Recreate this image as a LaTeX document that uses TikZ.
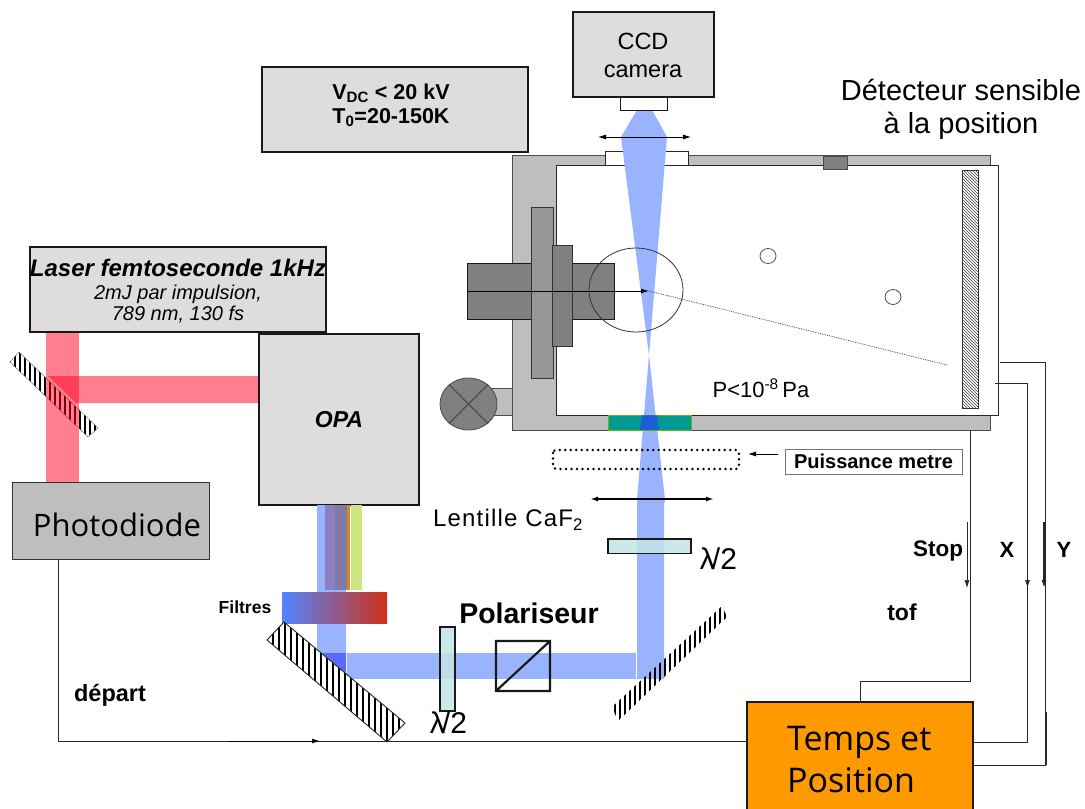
\documentclass[tikz,border=0pt]{standalone}
\usepackage{fontspec}
\setmainfont{Liberation Sans}
\setsansfont{Liberation Sans}
\newfontfamily\bigfont{Open Sans}
\usetikzlibrary{arrows.meta,patterns,calc,shapes.geometric}
\definecolor{boxgray}{HTML}{DDDDDD}
\definecolor{wallgray}{HTML}{BEBEBE}
\definecolor{beam}{HTML}{9AB3FF}
\definecolor{redb}{HTML}{FF0020}
\definecolor{tealc}{HTML}{009A94}
\definecolor{orangec}{HTML}{FF9900}
\definecolor{platec}{HTML}{C5E4E6}
\definecolor{purpa}{HTML}{8A80BF}
\definecolor{purpb}{HTML}{7F7AA6}
\definecolor{orangeb}{HTML}{D8862C}
\definecolor{greenb}{HTML}{CDE57E}
\definecolor{filta}{HTML}{4F86FF}
\definecolor{filtb}{HTML}{A050A8}
\definecolor{filtc}{HTML}{D03018}
\tikzset{x=1pt,y=-1pt,
 graybox/.style={draw=black!90,line width=1.4pt,fill=boxgray,inner sep=0pt,align=center},
 wire/.style={draw=black!85,line width=0.7pt},
 sig/.style={wire,-{Latex[length=8pt,width=5pt]}},
 plate/.style={draw=black!90,line width=1.6pt,fill=platec,fill opacity=.85},
 lab/.style={inner sep=0pt,align=center},
 dblarrow/.style={black,{Latex[length=8pt,width=5pt]}-{Latex[length=8pt,width=5pt]}},
 stripes/.style={line width=2.3pt,black}
}
% four corners, x range, stripe pitch
\newcommand{\hatchmirror}[7]{%
 \begin{scope}
  \fill[white] #1 -- #2 -- #3 -- #4 -- cycle;
  \clip #1 -- #2 -- #3 -- #4 -- cycle;
  \foreach \xx in {#5,#6,...,#7}{\draw[stripes] (\xx,300) -- (\xx,800);}
 \end{scope}}
\begin{document}
\begin{tikzpicture}
\useasboundingbox (0,0) rectangle (1085,809);
\fill[white] (0,0) rectangle (1085,809);
% chamber
\path[fill=wallgray,draw=black!70,line width=1pt] (512,155) rectangle (990,430);
\path[fill=white,draw=black!85,line width=0.9pt] (556,165) rectangle (998,415);
\path[fill=white,draw=black!85,line width=.8pt] (605,151) rectangle (688,165);
\path[fill=black!50,draw=black!70,line width=.7pt] (823,156) rectangle (847,169);
% tube valve
\path[fill=wallgray,draw=black!70,line width=.8pt] (490,388) rectangle (512,415);
\node[ellipse,minimum width=57pt,minimum height=52pt,inner sep=0pt,draw=black!70,line width=.8pt,fill=black!50] (valve) at (468.5,404) {};
\draw[black!75,line width=.8pt] (valve.45) -- (valve.225) (valve.135) -- (valve.315);
% electrode
\path[fill=black!50,draw=black!90,line width=.7pt] (467,263) rectangle (614,319);
\path[fill=black!41,draw=black!80,line width=.7pt] (531,207) rectangle (553,378);
\path[fill=black!50,draw=black!80,line width=.7pt] (552,245) rectangle (572,346);
% blue beam (camera side and lens side)
\fill[beam] (637,110) -- (652,110) -- (667,137) -- (649,355) -- (621,137) -- cycle;
\fill[beam] (649,355) -- (665,500) -- (664,505) -- (664,679) -- (637,679) -- (637,505) -- (637,500) -- cycle;
% window bar
\path[fill=tealc,draw=green!55!black!60!yellow,line width=1pt] (608,415) rectangle (691,430);
\fill[blue!70!beam,opacity=.6] (642,415) -- (657,415) -- (659,430) -- (640,430) -- cycle;
% circle & arrow
\coordinate (ioncentre) at (649,291);
\draw[black!80,line width=.8pt] (636,290) ellipse [x radius=47,y radius=42];
\coordinate (tipL) at (467,291);
\draw[black,line width=.8pt,-{Latex[length=8pt,width=5pt]}] (tipL) -- (ioncentre);
\coordinate (detHit) at (947,365);
\draw[black!70,line width=.8pt,densely dotted] (ioncentre) -- (detHit);
% ions
\node[ellipse,minimum width=16pt,minimum height=15pt,inner sep=0pt,draw=black!70,line width=.8pt,fill=white] (ion1) at (768,256) {};
\node[ellipse,minimum width=16pt,minimum height=15pt,inner sep=0pt,draw=black!70,line width=.8pt,fill=white] (ion2) at (893,297) {};
% detector
\path[pattern=north west lines,pattern color=black!75,draw=black!80,line width=.7pt] (962,170) rectangle (978,408);
\node[lab,font=\fontsize{22}{24}\selectfont] (pres) at (761,388) {P<10\textsuperscript{-8}\,Pa};
% CCD
\node[graybox,minimum width=141pt,minimum height=85pt] (ccd) at (643.5,54.5) {};
\node[lab,font=\fontsize{23.5}{28}\selectfont] at (643,55) {CCD\\camera};
\path[fill=white,draw=black!90,line width=.8pt] (620,97) rectangle (667,110);
\draw[dblarrow,line width=.8pt] (598,137) -- (691,137);
% HV box
\node[graybox,minimum width=266pt,minimum height=85pt] (hv) at (395,109.5) {};
\node[lab,font=\bfseries\fontsize{21.5}{24}\selectfont] at (391,105) {V\textsubscript{DC} < 20 kV\\T\textsubscript{0}=20-150K};
% detector label
\node[lab,font=\fontsize{29}{33}\selectfont] at (961,109) {Détecteur sensible\\à la position};
% small mirror + red beams
\hatchmirror{(10,362)}{(19,352)}{(98,428)}{(88,437)}{10}{15}{100}
\draw[black!60,line width=.4pt] (10,362) -- (19,352) -- (98,428) -- (88,437) -- cycle;
\fill[redb,opacity=.5] (46,330) rectangle (79,482);
\fill[redb,opacity=.5] (48,376) -- (259,376) -- (259,403) -- (76,403) -- cycle;
% laser
\node[graybox,minimum width=296pt,minimum height=85pt] (laser) at (178,289.5) {};
\node[lab,font=\bfseries\itshape\fontsize{24}{24}\selectfont] at (178,268) {Laser femtoseconde 1kHz};
\node[lab,font=\itshape\fontsize{20}{21}\selectfont] at (178,304) {2mJ par impulsion,\\789 nm, 130 fs};
% OPA
\node[graybox,minimum width=160pt,minimum height=171pt,font=\bfseries\itshape\fontsize{23}{23}\selectfont] (opa) at (339,419.5) {OPA};
% photodiode
\node[lab,draw=black!80,line width=.8pt,fill=wallgray,minimum width=197pt,minimum height=77pt] (pd) at (110.5,520.5) {};
\node[lab,font=\bigfont\fontsize{31}{31}\selectfont] at (117,525) {Photodiode};
% beams below OPA
\fill[beam] (317,505) rectangle (346,672);
\fill[purpa] (325,505) rectangle (335,590);
\fill[purpb] (335,505) rectangle (346.5,590);
\fill[orangeb] (347,505) rectangle (350,590);
\fill[greenb] (351,505) rectangle (362,590);
% main horizontal beam
\fill[beam] (347,653) rectangle (636,679);
\fill[blue!40!beam] (322,653) -- (346,653) -- (346,676) -- cycle;
% filter
\shade[left color=filta,middle color=filtb,right color=filtc] (282,592) rectangle (387,623);
% big mirror
\hatchmirror{(267,640)}{(284,622)}{(405,723)}{(387,742)}{267}{273}{405}
\draw[black!85,line width=.9pt] (267,640) -- (284,622) -- (405,723) -- (387,742) -- cycle;
% waveplates, polarizer
\path[plate] (440,627) rectangle (455,711);
\node[lab,font=\fontsize{30}{30}\selectfont] at (448.5,723) {λ\kern-3pt/2};
\node[lab,font=\bfseries\fontsize{28.5}{28.5}\selectfont] (polar) at (529,613) {Polariseur};
\path[draw=black!90,line width=2.2pt] (496,641) rectangle (550,691) (496,691) -- (550,641);
\path[plate] (608,539) rectangle (691,553.5);
\node[lab,font=\fontsize{30}{30}\selectfont] at (718.5,559) {λ\kern-3pt/2};
% thin mirror
\begin{scope}
 \clip (612,707) -- (722,606) -- (727,617) -- (618,721) -- cycle;
 \foreach \xx in {610,615,...,730}{\draw[line width=2.3pt,black] (\xx,600) -- (\xx,730);}
\end{scope}
\node[lab,font=\bfseries\fontsize{17.5}{17.5}\selectfont] at (245,607) {Filtres};
\node[lab,font=\addfontfeature{LetterSpace=5}\fontsize{24}{24}\selectfont] at (508,520) {Lentille CaF\textsubscript{2}};
% lens arrow
\draw[dblarrow,line width=1.6pt] (590,499) -- (714,499);
% dotted power meter
\path[draw=black,line width=2.7pt,line cap=round,dash pattern=on 0pt off 5.5pt,rounded corners=3pt] (553,450) rectangle (739,469);
\node[lab,draw=black!55,line width=1pt,minimum width=177pt,minimum height=25pt,font=\bfseries\fontsize{20}{20}\selectfont] (pm) at (873.5,461.5) {Puissance metre};
\coordinate (pmtip) at (748,454);
\draw[black,line width=.8pt,-{Latex[length=8pt,width=5pt]}] (778,454) -- (pmtip);
% Temps box
\node[lab,draw=black!90,line width=2.2pt,fill=orangec,minimum width=226pt,minimum height=112pt,anchor=north west] (tp) at (746,701) {};
\node[lab,font=\bigfont\fontsize{34}{42}\selectfont,align=left,anchor=west] at (787,760) {Temps et\\Position};
% wires
\draw[wire] (58,559) -- (58,741) -- (tp.west |- 0,741);
\coordinate (arrowA) at (228,741); \coordinate (arrowB) at (320,741);
\draw[black,line width=1pt,-{Latex[length=8pt,width=5pt]}] (arrowA) -- (arrowB);
\coordinate (stopT) at (970,430); \coordinate (stopC) at (970,681); \coordinate (stopD) at (860,681);
\draw[wire] (stopT) -- (stopC) -- (stopD) -- (stopD |- tp.north);
\draw[sig] (967,522) -- (967,588);
\coordinate (xT) at (995,383); \coordinate (xC) at (1027.5,383); \coordinate (xB) at (1027.5,742);
\draw[wire] (xT) -- (xC) -- (xB) -- (tp.east |- xB);
\draw[sig] (1027.5,522) -- (1027.5,588);
\coordinate (yT) at (1000,362); \coordinate (yC) at (1045.5,362); \coordinate (yB) at (1045.5,765);
\draw[wire] (yT) -- (yC) -- (yB) -- (tp.east |- yB);
\draw[sig,line width=1.3pt] (1044,522) -- (1044,588);
\draw[line width=1.3pt,black!85] (1046,712) -- (1046,765);
% signal labels
\node[lab,font=\bfseries\fontsize{22.5}{22.5}\selectfont] at (938,551) {Stop};
\node[lab,font=\bfseries\fontsize{22}{22}\selectfont] at (1007,550) {X};
\node[lab,font=\bfseries\fontsize{22}{22}\selectfont] at (1064,550) {Y};
\node[lab,font=\bfseries\fontsize{23}{23}\selectfont] at (902,612) {tof};
\node[lab,font=\bfseries\fontsize{23.5}{23.5}\selectfont] at (110,695) {départ};
\end{tikzpicture}
\end{document}
